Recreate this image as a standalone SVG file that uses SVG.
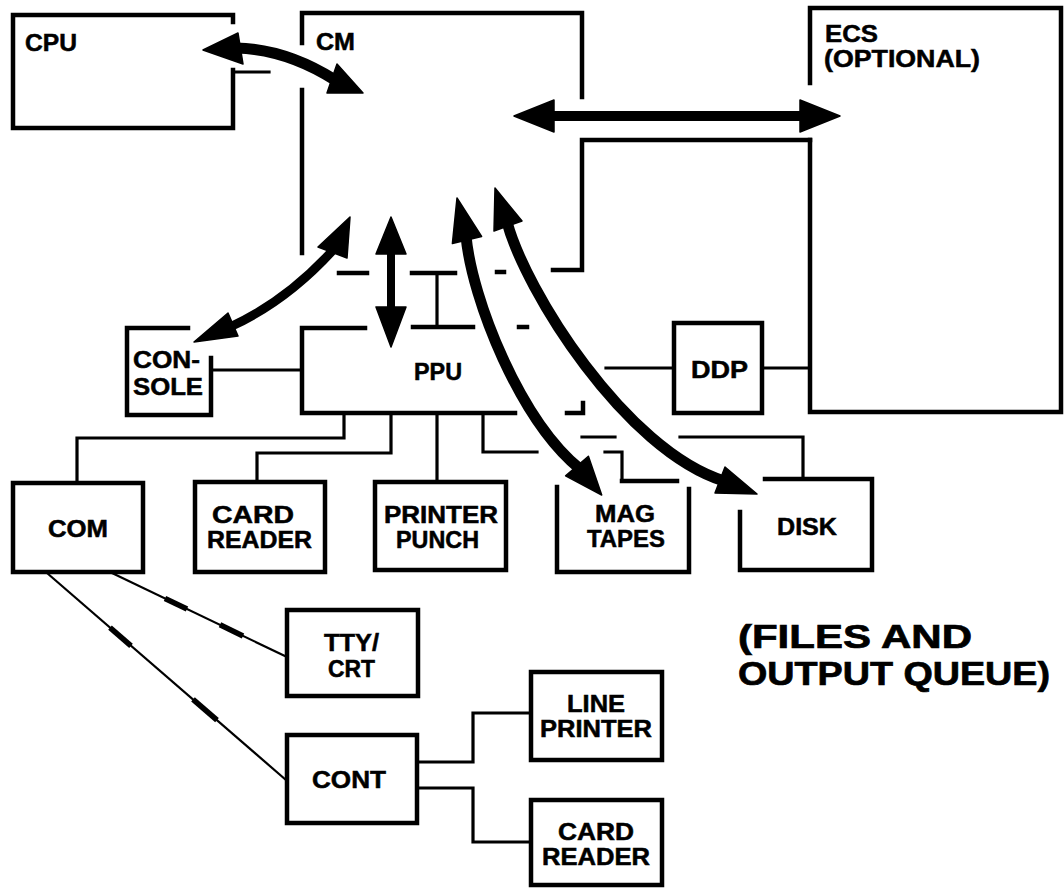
<svg xmlns="http://www.w3.org/2000/svg" width="1064" height="888" viewBox="0 0 1064 888">
<style>
.box{fill:none;stroke:#000;stroke-width:4.5;stroke-linejoin:miter;stroke-linecap:square}
.wire{fill:none;stroke:#000;stroke-width:3.2;stroke-linecap:square}
.thin{fill:none;stroke:#000;stroke-width:2.2}
.tick{fill:none;stroke:#000;stroke-width:5.5}
.shaft{fill:none;stroke:#000;stroke-linecap:butt}
.head{fill:#000;stroke:#000;stroke-width:1.5;stroke-linejoin:round}
text{font-family:"Liberation Sans",Arial,Helvetica,sans-serif;font-weight:bold;font-size:23px;fill:#000;stroke:#000;stroke-width:0.5}
.big{font-size:33px;stroke-width:0.7}
</style>
<rect width="1064" height="888" fill="#fff"/>

<g id="cpu">
<path class="box" d="M233,22 V15 H13 V128 H233 V70"/>
<text x="25" y="51" textLength="52" lengthAdjust="spacingAndGlyphs">CPU</text>
</g>

<g id="cm">
<path class="box" d="M302,43 V13 H582 V97"/>
<path class="box" d="M302,90 V253"/>
<path class="box" d="M553,270 H582 V140 H810"/>
<text x="316" y="50" textLength="39" lengthAdjust="spacingAndGlyphs">CM</text>
</g>

<g id="ecs">
<path class="box" d="M810,83 V8 H1061 V412 H810 V140"/>
<text x="825" y="42" font-size="21" textLength="53" lengthAdjust="spacingAndGlyphs">ECS</text>
<text x="824" y="67" font-size="21" textLength="156" lengthAdjust="spacingAndGlyphs">(OPTIONAL)</text>
</g>

<g id="ppu">
<path class="box" d="M365,328 H302 V413 H515"/>
<path class="box" d="M413,327 H473"/>
<path class="box" d="M519,327 H527"/>
<path class="box" d="M567,413 H583 V403"/>
<text x="414" y="380" textLength="48" lengthAdjust="spacingAndGlyphs">PPU</text>
</g>

<g id="console">
<path class="box" d="M188,328 H127 V415 H211 V358"/>
<text x="133" y="368" textLength="67" lengthAdjust="spacingAndGlyphs">CON-</text>
<text x="133" y="395" textLength="70" lengthAdjust="spacingAndGlyphs">SOLE</text>
</g>

<g id="ddp">
<rect class="box" x="674" y="323" width="88" height="90"/>
<text x="691" y="378" textLength="57" lengthAdjust="spacingAndGlyphs">DDP</text>
</g>

<g id="com">
<rect class="box" x="13" y="483" width="130" height="89"/>
<text x="48" y="537" textLength="60" lengthAdjust="spacingAndGlyphs">COM</text>
</g>

<g id="card-reader-1">
<rect class="box" x="195" y="482" width="130" height="90"/>
<text x="212" y="523" textLength="82" lengthAdjust="spacingAndGlyphs">CARD</text>
<text x="207" y="548" textLength="105" lengthAdjust="spacingAndGlyphs">READER</text>
</g>

<g id="printer-punch">
<rect class="box" x="375" y="482" width="131" height="88"/>
<text x="384" y="523" textLength="114" lengthAdjust="spacingAndGlyphs">PRINTER</text>
<text x="396" y="548" textLength="83" lengthAdjust="spacingAndGlyphs">PUNCH</text>
</g>

<g id="mag-tapes">
<path class="box" d="M557,487 V572 H689 V489"/>
<path class="box" d="M622,481 H677"/>
<text x="595" y="522" textLength="60" lengthAdjust="spacingAndGlyphs">MAG</text>
<text x="587" y="547" textLength="78" lengthAdjust="spacingAndGlyphs">TAPES</text>
</g>

<g id="disk">
<path class="box" d="M765,479 H872 V570 H740 V512"/>
<text x="777" y="535" textLength="60" lengthAdjust="spacingAndGlyphs">DISK</text>
</g>

<g id="tty-crt">
<rect class="box" x="287" y="610" width="131" height="86"/>
<text x="324" y="651" textLength="55" lengthAdjust="spacingAndGlyphs">TTY/</text>
<text x="328" y="677" textLength="47" lengthAdjust="spacingAndGlyphs">CRT</text>
</g>

<g id="cont">
<rect class="box" x="287" y="735" width="130" height="88"/>
<text x="312" y="788" textLength="74" lengthAdjust="spacingAndGlyphs">CONT</text>
</g>

<g id="line-printer">
<rect class="box" x="531" y="672" width="131" height="88"/>
<text x="567" y="712" textLength="58" lengthAdjust="spacingAndGlyphs">LINE</text>
<text x="540" y="737" textLength="112" lengthAdjust="spacingAndGlyphs">PRINTER</text>
</g>

<g id="card-reader-2">
<rect class="box" x="531" y="800" width="131" height="85"/>
<text x="558" y="840" textLength="76" lengthAdjust="spacingAndGlyphs">CARD</text>
<text x="542" y="865" textLength="108" lengthAdjust="spacingAndGlyphs">READER</text>
</g>

<g id="files-note">
<text class="big" x="738" y="648" textLength="234" lengthAdjust="spacingAndGlyphs">(FILES AND</text>
<text class="big" x="738" y="685" textLength="312" lengthAdjust="spacingAndGlyphs">OUTPUT QUEUE)</text>
</g>

<g id="connectors">
<path class="wire" d="M233,72 H269"/>
<path class="box" d="M339,273 H367"/>
<path class="box" d="M412,273 H455"/>
<path class="wire" d="M437,273 V327"/>
<path class="box" d="M497,272 H504"/>
<path class="wire" d="M211,370 H302"/>
<path class="wire" d="M606,368 H674"/>
<path class="wire" d="M762,368 H810"/>
<path class="wire" d="M344,413 V438 H77 V483"/>
<path class="wire" d="M391,413 V453 H257 V482"/>
<path class="wire" d="M437,413 V482"/>
<path class="wire" d="M483,413 V452 H537"/>
<path class="wire" d="M605,452 H622 V481"/>
<path class="wire" d="M582,437 H615"/>
<path class="wire" d="M680,437 H803 V479"/>
<path class="thin" d="M47,573 L286,780"/>
<path class="thin" d="M112,573 L287,657"/>
<path class="tick" d="M110,627.6 L131,645.8"/>
<path class="tick" d="M193,699.4 L217,720.2"/>
<path class="tick" d="M165,598.4 L187,609"/>
<path class="tick" d="M220,624.8 L243,635.9"/>
<path class="wire" d="M417,762 H473 V713 H531"/>
<path class="wire" d="M417,788 H473 V842 H531"/>

<path class="shaft" stroke-width="11" d="M236,48 Q286,49 335,80"/>
<polygon class="head" points="203,50 238,33 243,64"/>
<polygon class="head" points="363,93 337,64 327,93"/>
<path class="shaft" stroke-width="10" d="M550,116 H804"/>
<polygon class="head" points="514,116 554,100 554,132"/>
<polygon class="head" points="840,116 800,100 800,132"/>
<path class="shaft" stroke-width="8" d="M391,250 V311"/>
<polygon class="head" points="391,217 376,254 406,254"/>
<polygon class="head" points="391,347 376,307 406,307"/>
<path class="shaft" stroke-width="9" d="M230,327 Q287,301 334,249"/>
<polygon class="head" points="350,217 318,247 347,258"/>
<polygon class="head" points="194,342 228,313 238,336"/>
<path class="shaft" stroke-width="11" d="M466,236 C472,300 520,420 580,469"/>
<polygon class="head" points="457,198 481.6,236.5 452.4,243.5"/>
<polygon class="head" points="601.7,495 565.6,475.8 588.4,456.3"/>
<path class="shaft" stroke-width="11" d="M507,222 C525,290 625,450 724,481"/>
<polygon class="head" points="495,188 522,221 494,231"/>
<polygon class="head" points="757,494 715,493 725,467"/>
</g>
</svg>
